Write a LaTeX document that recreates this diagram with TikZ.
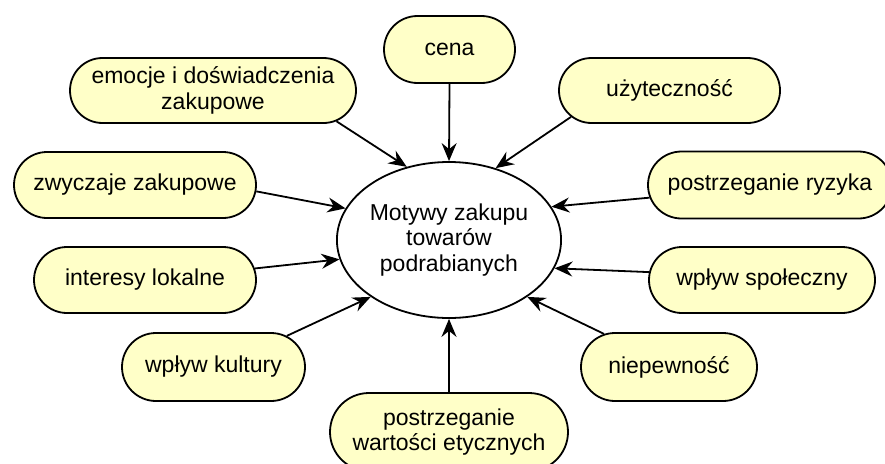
\documentclass[tikz,border=0pt]{standalone}
\usepackage{fontspec}
\setmainfont{Liberation Sans}
\usetikzlibrary{shapes.misc,shapes.geometric,arrows.meta}
\definecolor{boxfill}{RGB}{255,255,200}
\tikzset{
  motive/.style={rounded rectangle, draw=black, line width=1.8pt, fill=boxfill,
    minimum height=66pt, inner sep=2pt, align=center,
    font=\fontsize{23pt}{25.5pt}\selectfont},
  core/.style={ellipse, draw=black, line width=1.8pt, fill=white,
    minimum width=218pt, minimum height=156pt, inner sep=0pt, align=center,
    font=\fontsize{23pt}{25.5pt}\selectfont},
  arr/.style={line width=1.8pt, -{Stealth[length=18pt,width=15pt,inset=6pt]}}
}
\begin{document}
\begin{tikzpicture}[x=1pt,y=-1pt]
\clip (0,0) rectangle (885,463);
\fill[white] (0,0) rectangle (885,463);

% central ellipse
\node[core] (m) at (449,240) {Motywy zakupu\\towarów\\podrabianych};

% surrounding motives
\node[motive, minimum width=135pt, minimum height=67pt] (cena) at (449.5,49.5) {cena};
\node[motive, minimum width=290pt, minimum height=65pt] (emo) at (213,90.5) {emocje i doświadczenia\\zakupowe};
\node[motive, minimum width=225pt, minimum height=65pt] (uzy) at (669.5,90.5) {użyteczność};
\node[motive, minimum width=246pt] (zwy) at (135,185) {zwyczaje zakupowe};
\node[motive, minimum width=248pt, minimum height=67pt] (ryz) at (770,185) {postrzeganie ryzyka};
\node[motive, minimum width=226pt] (int) at (145,280) {interesy lokalne};
\node[motive, minimum width=230pt] (spo) at (762,280) {wpływ społeczny};
\node[motive, minimum width=187pt, minimum height=68pt] (kul) at (213.5,367) {wpływ kultury};
\node[motive, minimum width=180pt, minimum height=68pt] (nie) at (669,367) {niepewność};
\node[motive, minimum width=242pt, minimum height=78pt] (ety) at (449,432) {postrzeganie\\wartości etycznych};

% arrows into the ellipse
\draw[arr] (cena.south) -- (m.north);
\draw[arr] (emo.-14) -- (m.120);
\draw[arr] (uzy.195) -- (m.57);
\draw[arr] (zwy.-3) -- (m.163.5);
\draw[arr] (ryz.186) -- (m.18.6);
\draw[arr] (int.6) -- (m.190.4);
\draw[arr] (spo.176) -- (m.345.6);
\draw[arr] (kul.23) -- (m.216.5);
\draw[arr] (nie.153) -- (m.324.7);
\draw[arr] (ety.north) -- (m.south);
\end{tikzpicture}
\end{document}
